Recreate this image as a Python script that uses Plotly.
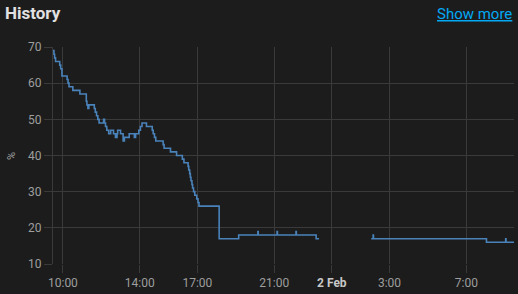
import plotly.graph_objects as go

# ---- data ----
times = [
    "2024-02-01 09:29", "2024-02-01 09:32", "2024-02-01 09:34", "2024-02-01 09:37",
    "2024-02-01 09:50", "2024-02-01 09:53", "2024-02-01 09:57", "2024-02-01 10:13",
    "2024-02-01 10:16", "2024-02-01 10:19", "2024-02-01 10:31", "2024-02-01 10:53",
    "2024-02-01 11:13", "2024-02-01 11:15", "2024-02-01 11:18", "2024-02-01 11:21",
    "2024-02-01 11:38", "2024-02-01 11:41", "2024-02-01 11:45", "2024-02-01 11:49",
    "2024-02-01 11:53", "2024-02-01 12:07", "2024-02-01 12:10", "2024-02-01 12:13",
    "2024-02-01 12:17", "2024-02-01 12:23", "2024-02-01 12:29", "2024-02-01 12:38",
    "2024-02-01 12:44", "2024-02-01 12:49", "2024-02-01 12:51", "2024-02-01 13:00",
    "2024-02-01 13:08", "2024-02-01 13:12", "2024-02-01 13:27", "2024-02-01 13:43",
    "2024-02-01 13:47", "2024-02-01 13:57", "2024-02-01 14:02", "2024-02-01 14:07",
    "2024-02-01 14:21", "2024-02-01 14:39", "2024-02-01 14:42", "2024-02-01 14:46",
    "2024-02-01 14:50", "2024-02-01 15:13", "2024-02-01 15:16", "2024-02-01 15:36",
    "2024-02-01 15:55", "2024-02-01 16:13", "2024-02-01 16:18", "2024-02-01 16:31",
    "2024-02-01 16:33", "2024-02-01 16:36", "2024-02-01 16:38", "2024-02-01 16:40",
    "2024-02-01 16:43", "2024-02-01 16:45", "2024-02-01 16:48", "2024-02-01 16:52",
    "2024-02-01 16:58", "2024-02-01 17:02", "2024-02-01 17:05", "2024-02-01 18:08",
    "2024-02-01 19:09", "2024-02-01 20:09", "2024-02-01 20:10", "2024-02-01 21:09",
    "2024-02-01 21:10", "2024-02-01 22:08", "2024-02-01 22:09", "2024-02-01 23:11",
    "2024-02-01 23:20", "2024-02-01 23:21",
    "2024-02-02 02:03", "2024-02-02 02:09", "2024-02-02 02:10", "2024-02-02 08:03",
    "2024-02-02 09:03", "2024-02-02 09:04", "2024-02-02 09:29",
]
humidity = [
    69, 68, 67, 66,
    65, 64, 62, 61,
    60, 59, 58, 57,
    55, 54, 53, 54,
    53, 52, 51, 50,
    49, 50, 49, 48,
    47, 46, 47, 46,
    45, 46, 47, 46,
    44, 45, 46, 45,
    46, 47, 48, 49,
    48, 47, 46, 45,
    44, 43, 42, 41,
    40, 39, 38, 37,
    36, 35, 34, 33,
    32, 31, 30, 29,
    28, 27, 26, 17,
    18, 19, 18, 19,
    18, 19, 18, 17,
    17, None,
    17, 18, 17, 16,
    17, 16, 16,
]

x_range = ["2024-02-01 09:29", "2024-02-02 09:29"]
x_tickvals = ["2024-02-01 10:00", "2024-02-01 14:00", "2024-02-01 17:00", "2024-02-01 21:00",
              "2024-02-02 00:00", "2024-02-02 03:00", "2024-02-02 07:00"]
x_ticktext = ["10:00", "14:00", "17:00", "21:00",
              "<span style='color:#c8c8c8'><b>2 Feb</b></span>", "3:00", "7:00"]
y_tickvals = [10, 20, 30, 40, 50, 60, 70]

BG = "#1c1c1c"
GRID = "#3a3a3a"
TICK_FONT = dict(family="Roboto", size=12, color="#9e9e9e")

fig = go.Figure()
fig.add_trace(go.Scatter(
    x=times, y=humidity, mode="lines", line_shape="hv",
    line=dict(color="#4a82ba", width=1.6), connectgaps=False,
    hoverinfo="skip", showlegend=False,
))

fig.update_layout(
    width=518, height=294,
    paper_bgcolor=BG, plot_bgcolor=BG,
    margin=dict(l=53, r=4, t=47, b=30),
    font=dict(family="Roboto"),
    xaxis=dict(
        type="date", range=x_range, tickmode="array",
        tickvals=x_tickvals, ticktext=x_ticktext,
        showgrid=True, gridcolor=GRID, gridwidth=1,
        ticks="outside", ticklen=8, tickcolor=GRID, tickwidth=1,
        tickfont=TICK_FONT, zeroline=False, showline=False,
    ),
    yaxis=dict(
        range=[10, 70], tickvals=y_tickvals,
        showgrid=True, gridcolor=GRID, gridwidth=1,
        ticks="outside", ticklen=8, tickcolor=GRID, tickwidth=1,
        tickfont=TICK_FONT, zeroline=False,
        showline=True, linecolor=GRID, linewidth=1,
    ),
    annotations=[
        dict(text="History", xref="paper", yref="paper",
             x=-0.109, y=1.155, xanchor="left", yanchor="middle", showarrow=False,
             font=dict(family="Roboto", size=17, color="#e1e1e1", weight="bold")),
        dict(text="Show more", xref="paper", yref="paper",
             x=1.0, y=1.15, xanchor="right", yanchor="middle", showarrow=False,
             font=dict(family="Roboto", size=15, color="#03a9f4", lineposition="under")),
        dict(text="%", xref="paper", yref="paper",
             x=-0.089, y=0.498, xanchor="center", yanchor="middle", showarrow=False,
             textangle=-90, font=dict(family="Roboto", size=11, color="#9e9e9e")),
    ],
)

fig.write_html("out.html")
